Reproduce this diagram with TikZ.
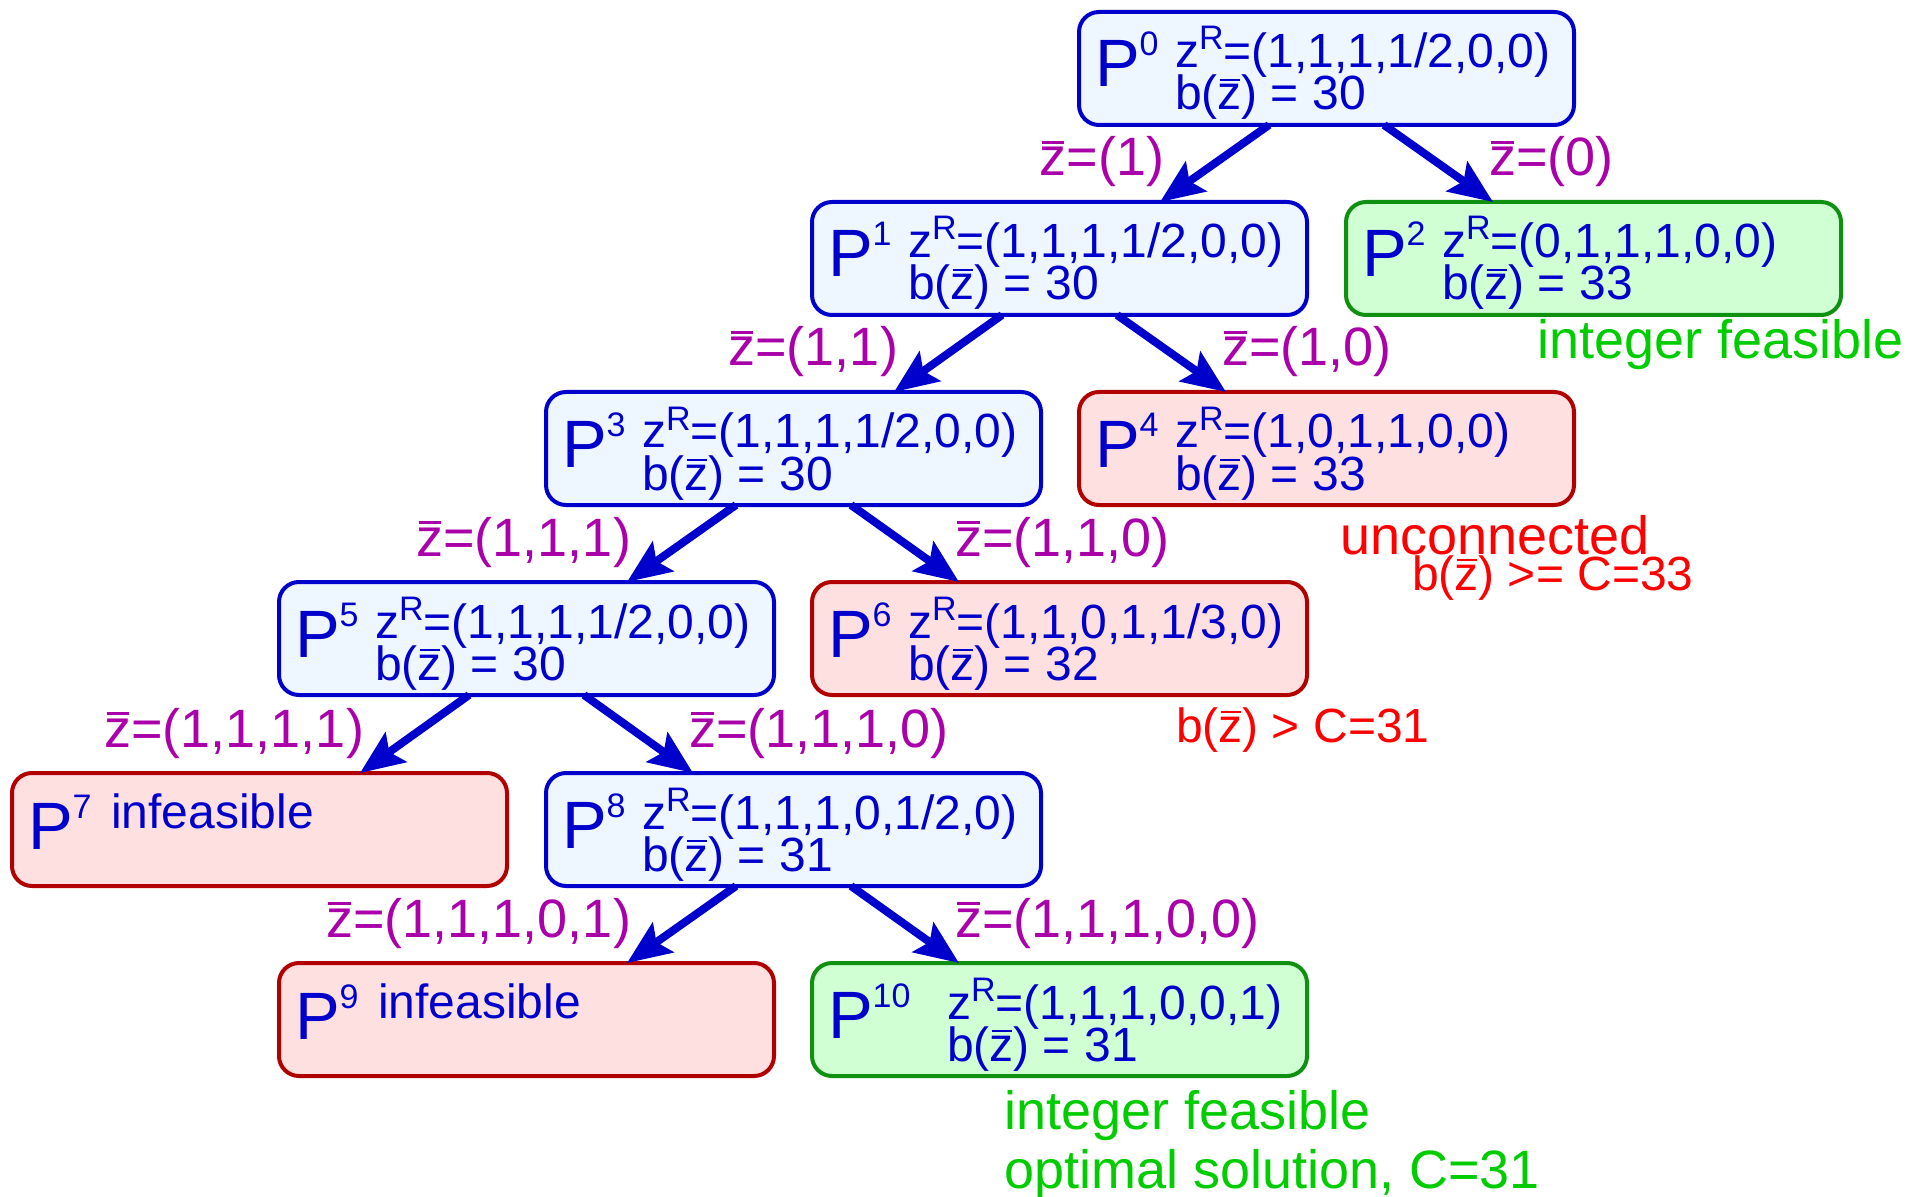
\documentclass[tikz,border=0pt]{standalone}
\usepackage{fontspec}
\setmainfont{Liberation Sans}
\usetikzlibrary{calc,arrows.meta}
\definecolor{tblue}{RGB}{0,0,204}
\definecolor{fblue}{RGB}{238,246,255}
\definecolor{fred}{RGB}{255,224,224}
\definecolor{bred}{RGB}{176,0,0}
\definecolor{fgreen}{RGB}{208,255,212}
\definecolor{bgreen}{RGB}{16,144,16}
\definecolor{lmag}{RGB}{170,0,170}
\definecolor{agreen}{RGB}{0,204,0}
\definecolor{ared}{RGB}{255,0,0}
\newcommand\zb{\leavevmode\rlap{\hspace{0.04em}\rule[0.6em]{0.42em}{0.05em}}z}
\newcommand\zR{z\raisebox{9pt}{\fontsize{17}{17}\selectfont R}}
\tikzset{
  pbox/.style={rectangle, rounded corners=10pt, line width=2pt, minimum width=247.5pt, minimum height=56.5pt, anchor=north west, inner sep=0pt, outer sep=0pt},
  bluebox/.style={pbox, draw=tblue, fill=fblue},
  redbox/.style={pbox, draw=bred, fill=fred},
  greenbox/.style={pbox, draw=bgreen, fill=fgreen},
  txt/.style={anchor=base west, inner sep=0pt, outer sep=0pt, text=tblue, font=\fontsize{24}{24}\selectfont},
  bigP/.style={anchor=base west, inner sep=0pt, outer sep=0pt, text=tblue, font=\fontsize{33.5}{33.5}\selectfont},
  lbl/.style={inner sep=0pt, outer sep=0pt, text=lmag, font=\fontsize{27}{27}\selectfont},
  note/.style={anchor=base west, inner sep=0pt, outer sep=0pt, font=\fontsize{27}{27}\selectfont},
  smallnote/.style={note, font=\fontsize{24}{24}\selectfont},
  edge/.style={draw=tblue, line width=4pt, -{Stealth[length=22pt,width=18pt,inset=4pt]}}
}
% name, x, y, style, sup, text x offset, line1, line2
\newcommand\pnode[8]{%
  \node[#4] (#1) at (#2,#3) {};
  \node[bigP] (#1p) at ($(#1.north west)+(16,75)$) {P\raisebox{15.5pt}{\fontsize{17}{17}\selectfont #5}};
  \node[txt] (#1a) at ($(#1.north west)+(#6,56)$) {#7};
  \node[txt] (#1b) at ($(#1.north west)+(#6,98)$) {#8};
}
% name, x, y, style, sup, text
\newcommand\inode[6]{%
  \node[#4] (#1) at (#2,#3) {};
  \node[bigP] (#1p) at ($(#1.north west)+(16,76)$) {P\raisebox{15.5pt}{\fontsize{17}{17}\selectfont #5}};
  \node[txt] (#1a) at ($(#1.north west)+(99,55)$) {#6};
}
\begin{document}
\begin{tikzpicture}[x=0.5pt,y=-0.5pt]
\useasboundingbox (0,0) rectangle (1920,1197);
\pnode{P0}{1079}{12}{bluebox}{0}{96}{\zR=(1,1,1,1/2,0,0)}{b(\zb) = 30}
\pnode{P1}{812}{202}{bluebox}{1}{96}{\zR=(1,1,1,1/2,0,0)}{b(\zb) = 30}
\pnode{P2}{1346}{202}{greenbox}{2}{96}{\zR=(0,1,1,1,0,0)}{b(\zb) = 33}
\pnode{P3}{546}{392}{bluebox}{3}{96}{\zR=(1,1,1,1/2,0,0)}{b(\zb) = 30}
\pnode{P4}{1079}{392}{redbox}{4}{96}{\zR=(1,0,1,1,0,0)}{b(\zb) = 33}
\pnode{P5}{279}{582}{bluebox}{5}{96}{\zR=(1,1,1,1/2,0,0)}{b(\zb) = 30}
\pnode{P6}{812}{582}{redbox}{6}{96}{\zR=(1,1,0,1,1/3,0)}{b(\zb) = 32}
\inode{P7}{12}{773}{redbox}{7}{infeasible}
\pnode{P8}{546}{773}{bluebox}{8}{96}{\zR=(1,1,1,0,1/2,0)}{b(\zb) = 31}
\inode{P9}{279}{963}{redbox}{9}{infeasible}
\pnode{P10}{812}{963}{greenbox}{10}{135}{\zR=(1,1,1,0,0,1)}{b(\zb) = 31}

\draw[edge] ($(P0.south west)+(190,0)$) -- ($(P1.north west)+(348,0)$);
\draw[edge] ($(P0.south west)+(305,0)$) -- ($(P2.north west)+(147,0)$);
\draw[edge] ($(P1.south west)+(190,0)$) -- ($(P3.north west)+(348,0)$);
\draw[edge] ($(P1.south west)+(305,0)$) -- ($(P4.north west)+(147,0)$);
\draw[edge] ($(P3.south west)+(190,0)$) -- ($(P5.north west)+(348,0)$);
\draw[edge] ($(P3.south west)+(305,0)$) -- ($(P6.north west)+(147,0)$);
\draw[edge] ($(P5.south west)+(190,0)$) -- ($(P7.north west)+(348,0)$);
\draw[edge] ($(P5.south west)+(305,0)$) -- ($(P8.north west)+(147,0)$);
\draw[edge] ($(P8.south west)+(190,0)$) -- ($(P9.north west)+(348,0)$);
\draw[edge] ($(P8.south west)+(305,0)$) -- ($(P10.north west)+(147,0)$);

\node[lbl, anchor=base east] (L1) at ($(P1.north west)+(352,-26)$) {\zb=(1)};
\node[lbl, anchor=base west] (L2) at ($(P2.north west)+(143,-26)$) {\zb=(0)};
\node[lbl, anchor=base east] (L3) at ($(P3.north west)+(352,-26)$) {\zb=(1,1)};
\node[lbl, anchor=base west] (L4) at ($(P4.north west)+(143,-26)$) {\zb=(1,0)};
\node[lbl, anchor=base east] (L5) at ($(P5.north west)+(352,-26)$) {\zb=(1,1,1)};
\node[lbl, anchor=base west] (L6) at ($(P6.north west)+(143,-26)$) {\zb=(1,1,0)};
\node[lbl, anchor=base east] (L7) at ($(P7.north west)+(352,-26)$) {\zb=(1,1,1,1)};
\node[lbl, anchor=base west] (L8) at ($(P8.north west)+(143,-26)$) {\zb=(1,1,1,0)};
\node[lbl, anchor=base east] (L9) at ($(P9.north west)+(352,-26)$) {\zb=(1,1,1,0,1)};
\node[lbl, anchor=base west] (L10) at ($(P10.north west)+(143,-26)$) {\zb=(1,1,1,0,0)};

\node[note, text=agreen] (N2) at ($(P2.south west)+(191,44)$) {integer feasible};
\node[note, text=ared] (N4a) at ($(P4.south west)+(261,49)$) {unconnected};
\node[smallnote, text=ared] (N4b) at ($(P4.south west)+(333,85)$) {b(\zb) >= C=33};
\node[smallnote, text=ared] (N6) at ($(P6.south west)+(364,47)$) {b(\zb) > C=31};
\node[note, text=agreen] (N10a) at ($(P10.south west)+(192,53)$) {integer feasible};
\node[note, text=agreen] (N10b) at ($(P10.south west)+(192,112)$) {optimal solution, C=31};
\end{tikzpicture}
\end{document}
